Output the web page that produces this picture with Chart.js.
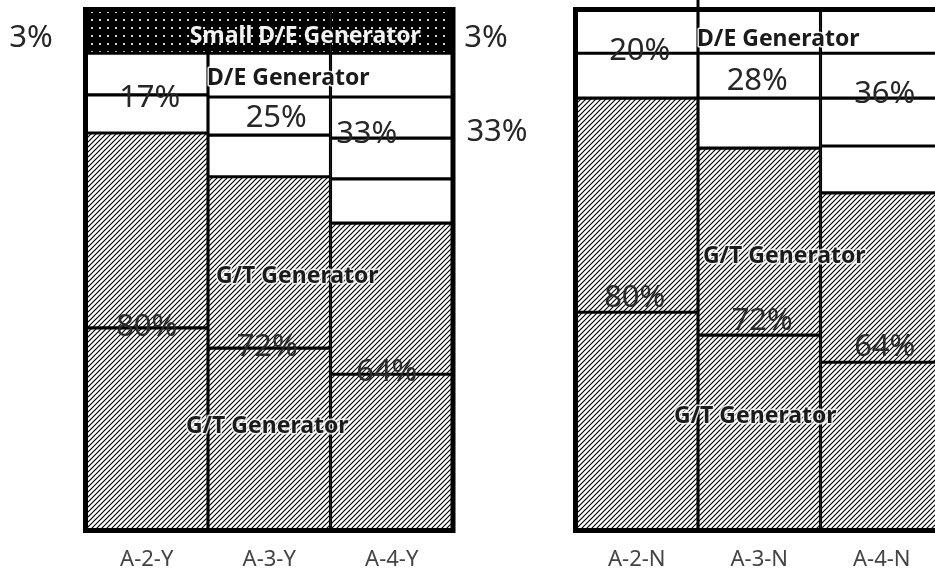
<!DOCTYPE html>
<html><head><meta charset="utf-8">
<script src="https://cdn.jsdelivr.net/npm/chart.js@4.4.1/dist/chart.umd.min.js"></script>
<style>
html,body{margin:0;padding:0;background:#fff;overflow:hidden;width:935px;height:575px}
#wrap{position:absolute;left:0;top:0;width:950px;height:575px}
</style>
</head><body><div id="wrap"><canvas id="c" width="950" height="575"></canvas></div>
<script>
// ---- data (segment heights per column, bottom to top) ----
const categories = ['A-2-Y','A-3-Y','A-4-Y','','A-2-N','A-3-N','A-4-N'];
const gtLower = [38.9, 35.0, 30.0, null, 41.9, 37.5, 32.3];
const gtUpper = [37.4, 32.9, 29.0, null, 41.1, 35.9, 32.5];
const deUnit1 = [7.3, 8.0, 8.5, null, 8.6, 9.6, 9.0];
const deUnit2 = [8.0, 7.3, 7.8, null, 8.4, 8.6, 9.2];
const deUnit3 = [null, 8.4, 7.9, null, null, 8.4, 8.6];
const deUnit4 = [null, null, 8.4, null, null, null, 8.4];
const smallDE = [8.4, 8.4, 8.4, null, null, null, null];
const deShare = ['17%','25%','33%','','20%','28%','36%'];
const gtShare = ['80%','72%','64%','','80%','72%','64%'];
const smallShare = '3%';
const outerDEShare = '33%';

// ---- patterns ----
function makeHatch(){
  const s = 5, c = document.createElement('canvas'); c.width = s; c.height = s;
  const g = c.getContext('2d');
  g.fillStyle = '#fff'; g.fillRect(0,0,s,s);
  g.strokeStyle = '#000'; g.lineWidth = 1.15;
  g.beginPath();
  g.moveTo(0,s); g.lineTo(s,0);
  g.moveTo(-1,1); g.lineTo(1,-1);
  g.moveTo(s-1,s+1); g.lineTo(s+1,s-1);
  g.stroke();
  return g.createPattern(c,'repeat');
}
function makeDots(){
  const s = 8, c = document.createElement('canvas'); c.width = s; c.height = s;
  const g = c.getContext('2d');
  g.fillStyle = '#000'; g.fillRect(0,0,s,s);
  g.fillStyle = '#d8d8d8'; g.fillRect(3,3,2,2);
  return g.createPattern(c,'repeat');
}
const hatch = makeHatch(), dots = makeDots();
const stacks = [gtLower, gtUpper, deUnit1, deUnit2, deUnit3, deUnit4, smallDE];
function cum(col, k){ let s = 0; for(let d=0; d<=k; d++) s += (stacks[d][col] || 0); return s; }

const framePlugin = {
  id: 'frames',
  afterDatasetsDraw(chart){
    const {ctx, chartArea:a, scales:{x}} = chart;
    const w = x.getPixelForValue(1) - x.getPixelForValue(0);
    ctx.save(); ctx.strokeStyle = '#000'; ctx.lineWidth = 5;
    [[0,2],[4,6]].forEach(([i,j])=>{
      const l = x.getPixelForValue(i) - w/2, r = x.getPixelForValue(j) + w/2;
      ctx.strokeRect(l, a.top, r-l, a.bottom-a.top);
    });
    // divider in the right panel runs slightly above the frame
    ctx.lineWidth = 3;
    ctx.beginPath(); const dx = x.getPixelForValue(5) - w/2; ctx.moveTo(dx, 0); ctx.lineTo(dx, a.top); ctx.stroke();
    ctx.restore();
  }
};

const dePctOff = [[3,5],[7,3],[-25,-4],null,[3,-3],[-2,2],[3,-7]];
const gtPctOff = [[0,-1],[-2,-1],[-5,-2],null,[-2,-14],[3,-14],[3,-15]];

const textPlugin = {
  id: 'texts',
  afterDraw(chart){
    const {ctx, chartArea:a, scales:{x, y}} = chart;
    const w = x.getPixelForValue(1) - x.getPixelForValue(0);
    const X = i => x.getPixelForValue(i), Y = v => y.getPixelForValue(v);
    ctx.save();
    ctx.textBaseline = 'middle';
    const pctFont = '400 31px "Noto Sans", sans-serif';
    const nameFont = 'bold 23px "Noto Sans", sans-serif';
    function txt(t, px, py, font, fill, align, halo){
      ctx.font = font; ctx.textAlign = align || 'center';
      if (halo){ ctx.lineJoin='round'; ctx.lineWidth = 3; ctx.strokeStyle = halo; ctx.strokeText(t, px, py); }
      ctx.fillStyle = fill; ctx.fillText(t, px, py);
    }
    // names
    const smallMid = (Y(100) + Y(cum(0,5))) / 2;
    const leftCenter = (X(0) + X(2)) / 2;
    txt('Small D/E Generator', leftCenter + 36, smallMid + 5, nameFont, '#f2f2f2');
    txt('D/E Generator', X(1) - w/2 - 1, Y(cum(1,5)) + 25, nameFont, '#1a1a1a', 'left', 'rgba(255,255,255,0.9)');
    txt('D/E Generator', X(5) - w/2 - 1, Y(100) + 29.5, nameFont, '#1a1a1a', 'left', 'rgba(255,255,255,0.9)');
    const gtUpMid = c => (Y(cum(c,1)) + Y(cum(c,0))) / 2;
    const gtLowMid = c => (Y(cum(c,0)) + Y(0)) / 2;
    const halo = 'rgba(255,255,255,0.8)';
    txt('G/T Generator', X(1) + 28, gtUpMid(1) + 14, nameFont, '#1a1a1a', 'center', halo);
    txt('G/T Generator', X(1) - 2, gtLowMid(1) - 13, nameFont, '#1a1a1a', 'center', halo);
    txt('G/T Generator', X(5) + 25, gtUpMid(5) + 14.5, nameFont, '#1a1a1a', 'center', halo);
    txt('G/T Generator', X(5) - 4, gtLowMid(5) - 16, nameFont, '#1a1a1a', 'center', halo);
    // percentages
    categories.forEach((c, i) => {
      if (!deShare[i]) return;
      const deMid = (Y(cum(i,1)) + Y(cum(i,5))) / 2;
      txt(deShare[i], X(i) + dePctOff[i][0], deMid + dePctOff[i][1], pctFont, '#262626');
      txt(gtShare[i], X(i) + gtPctOff[i][0], Y(cum(i,0)) + gtPctOff[i][1], pctFont, '#2a2a2a');
    });
    const leftEdge = X(0) - w/2, rightEdge = X(2) + w/2;
    txt(smallShare, leftEdge - 54.5, smallMid + 7, pctFont, '#262626');
    txt(smallShare, rightEdge + 33, smallMid + 7, pctFont, '#262626');
    txt(outerDEShare, rightEdge + 44, (Y(cum(2,1)) + Y(cum(2,5))) / 2 - 6.5, pctFont, '#262626');
    ctx.restore();
  }
};

const mk = (label, data, bg) => ({label, data, backgroundColor: bg, borderColor: '#000', borderWidth: 1.9,
  borderSkipped: false, categoryPercentage: 1, barPercentage: 1});

new Chart(document.getElementById('c'), {
  type: 'bar',
  data: { labels: categories, datasets: [
    mk('G/T Generator 1', gtLower, hatch),
    mk('G/T Generator 2', gtUpper, hatch),
    mk('D/E Generator 1', deUnit1, '#fff'),
    mk('D/E Generator 2', deUnit2, '#fff'),
    mk('D/E Generator 3', deUnit3, '#fff'),
    mk('D/E Generator 4', deUnit4, '#fff'),
    mk('Small D/E Generator', smallDE, dots)
  ]},
  options: {
    responsive: false, animation: false, events: [],
    layout: { padding: { left: 85.5, right: 7, top: 9.5, bottom: 4.5 } },
    plugins: { legend: { display: false }, tooltip: { enabled: false } },
    scales: {
      x: { stacked: true, grid: { display: false, drawTicks: false }, border: { display: false },
           ticks: { color: '#444', font: { family: '"Noto Sans", sans-serif', size: 22 }, padding: 16 },
           afterFit(s){ s.height = 40; } },
      y: { stacked: true, display: false, min: 0, max: 100 }
    }
  },
  plugins: [framePlugin, textPlugin]
});
</script>
</body></html>
